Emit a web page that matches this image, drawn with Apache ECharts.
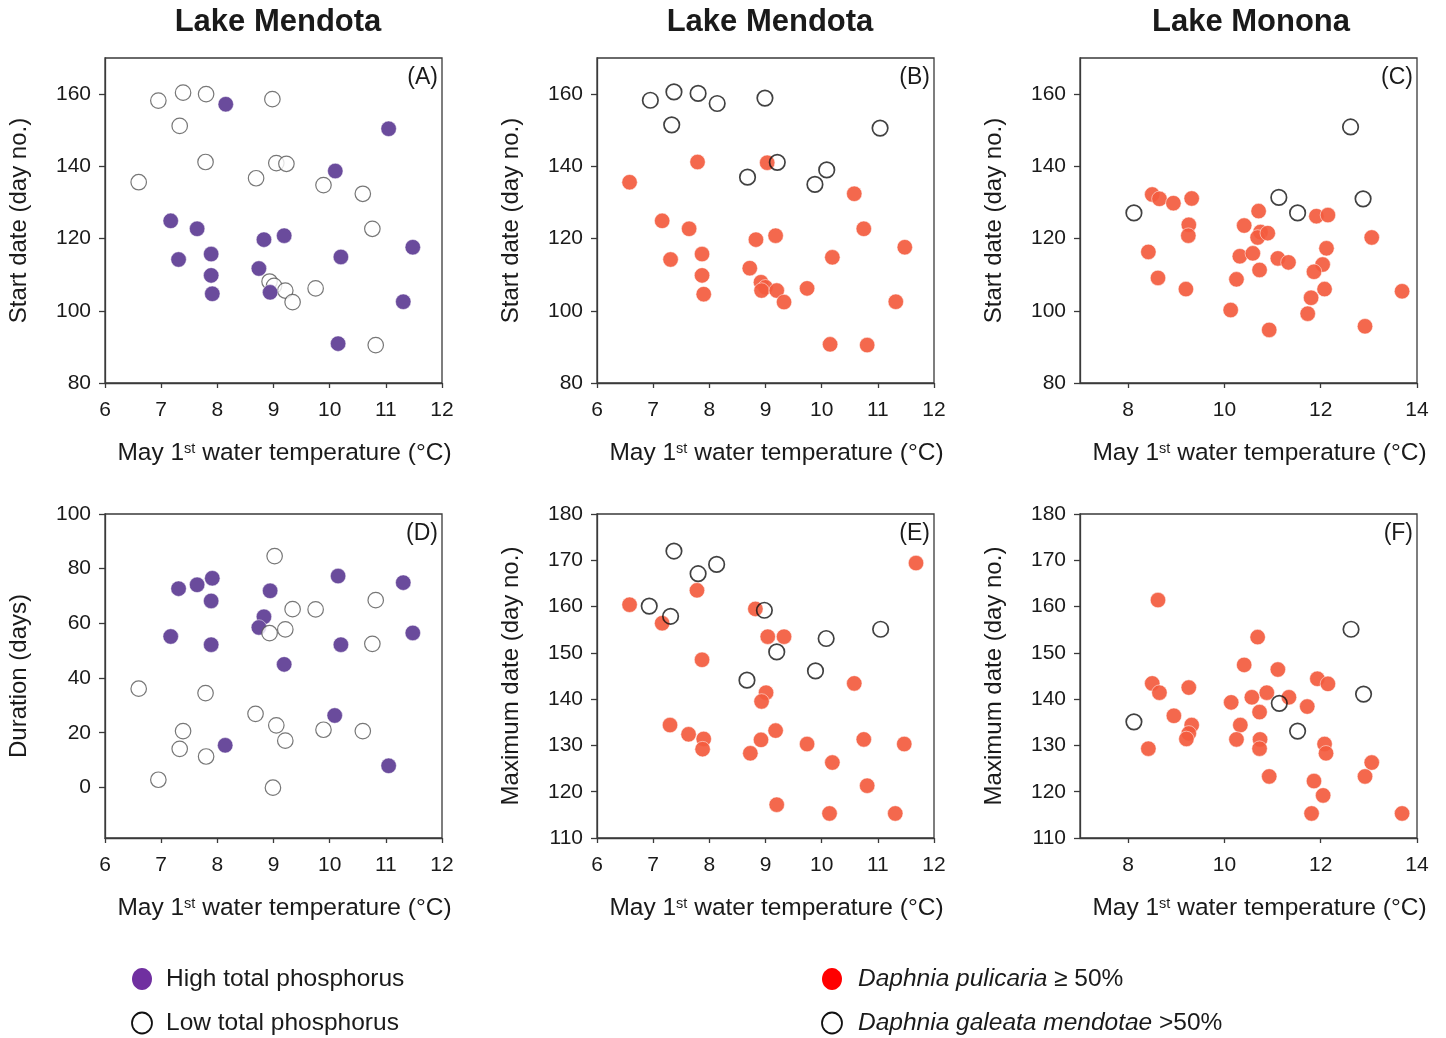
<!DOCTYPE html>
<html>
<head>
<meta charset="utf-8">
<script src="https://cdn.jsdelivr.net/npm/echarts@6/dist/echarts.min.js"></script>
<style>
html,body{margin:0;padding:0;background:#fff;}
#chart{width:1446px;height:1038px;}
</style>
</head>
<body>
<div id="chart"></div>
<script>
// ---------------- DATA ----------------
const panelTitles = ['Lake Mendota', 'Lake Mendota', 'Lake Monona'];
const panelLetters = ['(A)', '(B)', '(C)', '(D)', '(E)', '(F)'];

const xTicksMendota = [6, 7, 8, 9, 10, 11, 12];
const xTicksMonona = [8, 10, 12, 14];
const yTicksStart = [80, 100, 120, 140, 160];
const yTicksDuration = [0, 20, 40, 60, 80, 100];
const yTicksMax = [110, 120, 130, 140, 150, 160, 170, 180];

// (A) Lake Mendota start date, by total phosphorus
const mendotaHighStart = [[8.15,157.2],[11.05,150.4],[10.10,138.7],[7.17,124.9],[7.64,122.7],[8.83,119.7],[9.19,120.8],[7.31,114.2],[7.89,115.7],[7.89,109.8],[7.91,104.7],[8.74,111.7],[8.94,105.1],[10.20,114.9],[11.48,117.6],[11.31,102.5],[10.15,90.9]];
const mendotaLowStart = [[6.95,158.2],[7.39,160.4],[7.80,160.0],[8.98,158.6],[7.33,151.2],[7.79,141.2],[6.60,135.6],[9.05,140.9],[9.23,140.7],[8.69,136.7],[9.89,134.8],[10.59,132.4],[10.76,122.7],[8.93,108.1],[9.01,106.9],[9.21,105.6],[9.34,102.4],[9.75,106.2],[10.82,90.5]];

// (B) Lake Mendota start date, by species
const mendotaPulStart = [[7.79,141.2],[9.03,141.0],[6.58,135.6],[10.58,132.4],[7.16,124.9],[7.64,122.7],[8.83,119.7],[9.18,120.8],[10.75,122.7],[11.48,117.6],[7.31,114.2],[7.87,115.7],[7.87,109.8],[7.90,104.6],[8.72,111.8],[8.92,107.9],[9.00,106.5],[8.93,105.6],[9.20,105.6],[9.33,102.4],[9.74,106.2],[10.19,114.8],[11.32,102.5],[10.15,90.7],[10.81,90.5]];
const mendotaGalStart = [[6.95,158.3],[7.37,160.6],[7.80,160.2],[8.14,157.4],[8.99,158.9],[7.33,151.5],[11.04,150.6],[9.21,141.1],[8.68,137.0],[10.09,139.0],[9.88,135.0]];

// (C) Lake Monona start date, by species
const mononaPulStart = [[8.50,132.2],[8.65,131.0],[8.94,129.8],[9.32,131.1],[9.26,123.8],[9.25,120.8],[8.42,116.3],[8.62,109.1],[9.20,106.0],[10.71,127.6],[10.41,123.6],[10.75,121.8],[10.69,120.3],[10.90,121.5],[10.32,115.1],[10.59,115.9],[10.73,111.3],[10.25,108.7],[10.13,100.2],[10.93,94.7],[11.11,114.5],[11.33,113.4],[11.91,126.2],[12.15,126.5],[12.12,117.3],[12.04,112.8],[11.86,110.8],[12.08,106.0],[11.80,103.6],[11.73,99.2],[13.06,120.3],[12.92,95.7],[13.69,105.4]];
const mononaGalStart = [[8.12,127.1],[11.13,131.4],[11.52,127.1],[12.62,150.9],[12.88,131.0]];

// (D) Lake Mendota duration, by total phosphorus
const mendotaHighDur = [[7.31,72.7],[7.64,74.1],[7.91,76.5],[7.89,68.2],[8.94,71.9],[10.15,77.3],[11.31,74.9],[8.83,62.4],[8.74,58.5],[7.17,55.2],[7.89,52.2],[10.20,52.2],[11.48,56.5],[9.19,45.0],[10.09,26.3],[8.14,15.4],[11.05,7.9]];
const mendotaLowDur = [[9.02,84.6],[9.34,65.2],[9.75,65.1],[10.82,68.5],[8.93,56.4],[9.21,57.8],[10.76,52.5],[6.60,36.1],[7.79,34.5],[8.68,26.9],[7.39,20.6],[9.05,22.7],[9.21,17.1],[9.89,21.1],[10.59,20.6],[7.33,14.1],[7.80,11.3],[6.95,2.8],[8.99,-0.1]];

// (E) Lake Mendota maximum date, by species
const mendotaPulMax = [[6.58,160.4],[7.16,156.4],[7.78,163.5],[7.87,148.5],[8.82,159.5],[9.04,153.5],[9.33,153.5],[9.01,141.4],[8.93,139.5],[7.30,134.4],[7.63,132.4],[7.90,131.4],[7.88,129.2],[8.73,128.3],[8.92,131.2],[9.18,133.2],[9.74,130.3],[10.19,126.3],[10.58,143.4],[10.75,131.3],[11.47,130.3],[10.81,121.3],[9.20,117.2],[10.14,115.3],[11.31,115.3],[11.68,169.4]];
const mendotaGalMax = [[7.37,172.0],[7.80,167.1],[8.13,169.1],[6.93,160.1],[7.31,157.9],[8.98,159.2],[9.20,150.2],[8.67,144.1],[10.08,153.1],[9.89,146.1],[11.05,155.1]];

// (F) Lake Monona maximum date, by species
const mononaPulMax = [[8.62,161.4],[8.50,143.4],[8.65,141.4],[9.26,142.5],[8.95,136.4],[9.32,134.4],[9.26,132.6],[9.21,131.4],[8.42,129.3],[10.69,153.4],[10.41,147.4],[11.11,146.4],[10.14,139.3],[10.57,140.4],[10.88,141.4],[11.34,140.4],[10.73,137.2],[10.33,134.4],[10.25,131.3],[10.74,131.3],[10.73,129.3],[10.93,123.3],[11.72,138.4],[11.93,144.4],[12.15,143.3],[12.08,130.3],[12.11,128.3],[11.86,122.3],[12.05,119.2],[11.81,115.3],[13.06,126.3],[12.92,123.3],[13.69,115.3]];
const mononaGalMax = [[8.12,135.1],[11.14,139.1],[11.52,133.1],[12.63,155.1],[12.89,141.1]];

// ---------------- STYLE / LAYOUT ----------------
const FONT = '"Liberation Sans", Arial, Helvetica, sans-serif';
const TXT = '#1a1a1a';
const PURPLE = '#6a4b9c';
const RED = '#f35b3e';

const cols = [105, 597, 1080];
const rows = [{top: 58, height: 325}, {top: 514, height: 324}];
const W = 337;

const grids = [];
for (let r = 0; r < 2; r++) {
  for (let c = 0; c < 3; c++) {
    grids.push({left: cols[c], top: rows[r].top, width: W, height: rows[r].height,
      show: true, borderColor: '#3a3a3a', borderWidth: 1.3, backgroundColor: 'transparent', containLabel: false});
  }
}

const xName = 'May 1{sup|st} water temperature (°C)';
function xAxis(gi, min, max, ticks) {
  return {
    type: 'value', gridIndex: gi, min: min, max: max,
    name: xName, nameLocation: 'middle', nameGap: 58,
    nameTextStyle: {fontFamily: FONT, fontSize: 24.5, color: TXT, padding: [0, 0, 0, 22],
      rich: {sup: {fontFamily: FONT, fontSize: 14.5, color: TXT, verticalAlign: 'top', lineHeight: 14}}},
    axisLine: {show: true, onZero: false, lineStyle: {color: '#3a3a3a', width: 1.3}},
    axisTick: {show: true, inside: false, length: 5, customValues: ticks, lineStyle: {color: '#3a3a3a', width: 1.3}},
    axisLabel: {show: true, margin: 17, customValues: ticks, fontFamily: FONT, fontSize: 21, color: TXT},
    splitLine: {show: false}
  };
}
function yAxis(gi, min, max, ticks, name) {
  return {
    type: 'value', gridIndex: gi, min: min, max: max,
    name: name, nameLocation: 'middle', nameGap: 74,
    nameTextStyle: {fontFamily: FONT, fontSize: 24, color: TXT},
    axisLine: {show: true, onZero: false, lineStyle: {color: '#3a3a3a', width: 1.3}},
    axisTick: {show: true, inside: false, length: 6, customValues: ticks, lineStyle: {color: '#3a3a3a', width: 1.3}},
    axisLabel: {show: true, margin: 14, customValues: ticks, fontFamily: FONT, fontSize: 21, color: TXT},
    splitLine: {show: false}
  };
}

const xAxes = [
  xAxis(0, 6, 12, xTicksMendota), xAxis(1, 6, 12, xTicksMendota), xAxis(2, 7, 14, xTicksMonona),
  xAxis(3, 6, 12, xTicksMendota), xAxis(4, 6, 12, xTicksMendota), xAxis(5, 7, 14, xTicksMonona)
];
const yAxes = [
  yAxis(0, 80, 170, yTicksStart, 'Start date (day no.)'),
  yAxis(1, 80, 170, yTicksStart, 'Start date (day no.)'),
  yAxis(2, 80, 170, yTicksStart, 'Start date (day no.)'),
  yAxis(3, -18.5, 100, yTicksDuration, 'Duration (days)'),
  yAxis(4, 110, 180, yTicksMax, 'Maximum date (day no.)'),
  yAxis(5, 110, 180, yTicksMax, 'Maximum date (day no.)')
];

const SIZE = 15.5;
function filledPurple(i, data) {
  return {type: 'scatter', xAxisIndex: i, yAxisIndex: i, data: data, symbol: 'circle', symbolSize: SIZE,
    itemStyle: {color: PURPLE, borderColor: 'rgba(255,255,255,0.6)', borderWidth: 0.8, opacity: 1}, silent: true, z: 3};
}
function filledRed(i, data) {
  return {type: 'scatter', xAxisIndex: i, yAxisIndex: i, data: data, symbol: 'circle', symbolSize: SIZE,
    itemStyle: {color: RED, borderColor: 'rgba(255,255,255,0.7)', borderWidth: 0.8, opacity: 0.92}, silent: true, z: 3};
}
function openGray(i, data) {
  return {type: 'scatter', xAxisIndex: i, yAxisIndex: i, data: data, symbol: 'circle', symbolSize: SIZE,
    itemStyle: {color: '#ffffff', borderColor: '#555555', borderWidth: 1.2}, silent: true, z: 2};
}
function openBlack(i, data) {
  return {type: 'scatter', xAxisIndex: i, yAxisIndex: i, data: data, symbol: 'circle', symbolSize: SIZE,
    itemStyle: {color: 'rgba(255,255,255,0.05)', borderColor: '#111111', borderWidth: 1.7}, silent: true, z: 4};
}

const series = [
  openGray(0, mendotaLowStart), filledPurple(0, mendotaHighStart),
  filledRed(1, mendotaPulStart), openBlack(1, mendotaGalStart),
  filledRed(2, mononaPulStart), openBlack(2, mononaGalStart),
  filledPurple(3, mendotaHighDur), Object.assign(openGray(3, mendotaLowDur), {z: 4}),
  filledRed(4, mendotaPulMax), openBlack(4, mendotaGalMax),
  filledRed(5, mononaPulMax), openBlack(5, mononaGalMax)
];

// ---------------- GRAPHIC TEXT (titles, letters, legend) ----------------
const graphic = [];
[278, 770, 1251].forEach(function (cx, i) {
  graphic.push({type: 'text', x: cx, y: 22, style: {text: panelTitles[i], fontFamily: FONT, fontSize: 31, fontWeight: 'bold',
    fill: TXT, align: 'center', verticalAlign: 'middle'}});
});
grids.forEach(function (g, i) {
  graphic.push({type: 'text', x: g.left + g.width - 4, y: g.top + 20, style: {text: panelLetters[i], fontFamily: FONT,
    fontSize: 23, fill: TXT, align: 'right', verticalAlign: 'middle'}});
});
// legend
graphic.push({type: 'ellipse', shape: {cx: 142, cy: 979, rx: 10, ry: 11}, style: {fill: '#7030a0'}});
graphic.push({type: 'ellipse', shape: {cx: 142, cy: 1023, rx: 10, ry: 10.5}, style: {fill: '#fff', stroke: '#111', lineWidth: 1.8}});
graphic.push({type: 'text', x: 166, y: 979, style: {text: 'High total phosphorus', fontFamily: FONT, fontSize: 24.5, fill: TXT, verticalAlign: 'middle'}});
graphic.push({type: 'text', x: 166, y: 1023, style: {text: 'Low total phosphorus', fontFamily: FONT, fontSize: 24.5, fill: TXT, verticalAlign: 'middle'}});
graphic.push({type: 'ellipse', shape: {cx: 832, cy: 979, rx: 10, ry: 11}, style: {fill: '#ff0000'}});
graphic.push({type: 'ellipse', shape: {cx: 832, cy: 1023, rx: 10, ry: 10.5}, style: {fill: '#fff', stroke: '#111', lineWidth: 1.8}});
graphic.push({type: 'text', x: 858, y: 979, style: {text: '{i|Daphnia pulicaria} ≥ 50%', fontFamily: FONT, fontSize: 24.5, fill: TXT, verticalAlign: 'middle',
  rich: {i: {fontFamily: FONT, fontSize: 24.5, fontStyle: 'italic', fill: TXT, color: TXT}}}});
graphic.push({type: 'text', x: 858, y: 1023, style: {text: '{i|Daphnia galeata mendotae} >50%', fontFamily: FONT, fontSize: 24.5, fill: TXT, verticalAlign: 'middle',
  rich: {i: {fontFamily: FONT, fontSize: 24.5, fontStyle: 'italic', fill: TXT, color: TXT}}}});

const chart = echarts.init(document.getElementById('chart'), null, {renderer: 'canvas'});
chart.setOption({
  backgroundColor: '#ffffff',
  animation: false,
  grid: grids,
  xAxis: xAxes,
  yAxis: yAxes,
  series: series,
  graphic: graphic
});
</script>
</body>
</html>
